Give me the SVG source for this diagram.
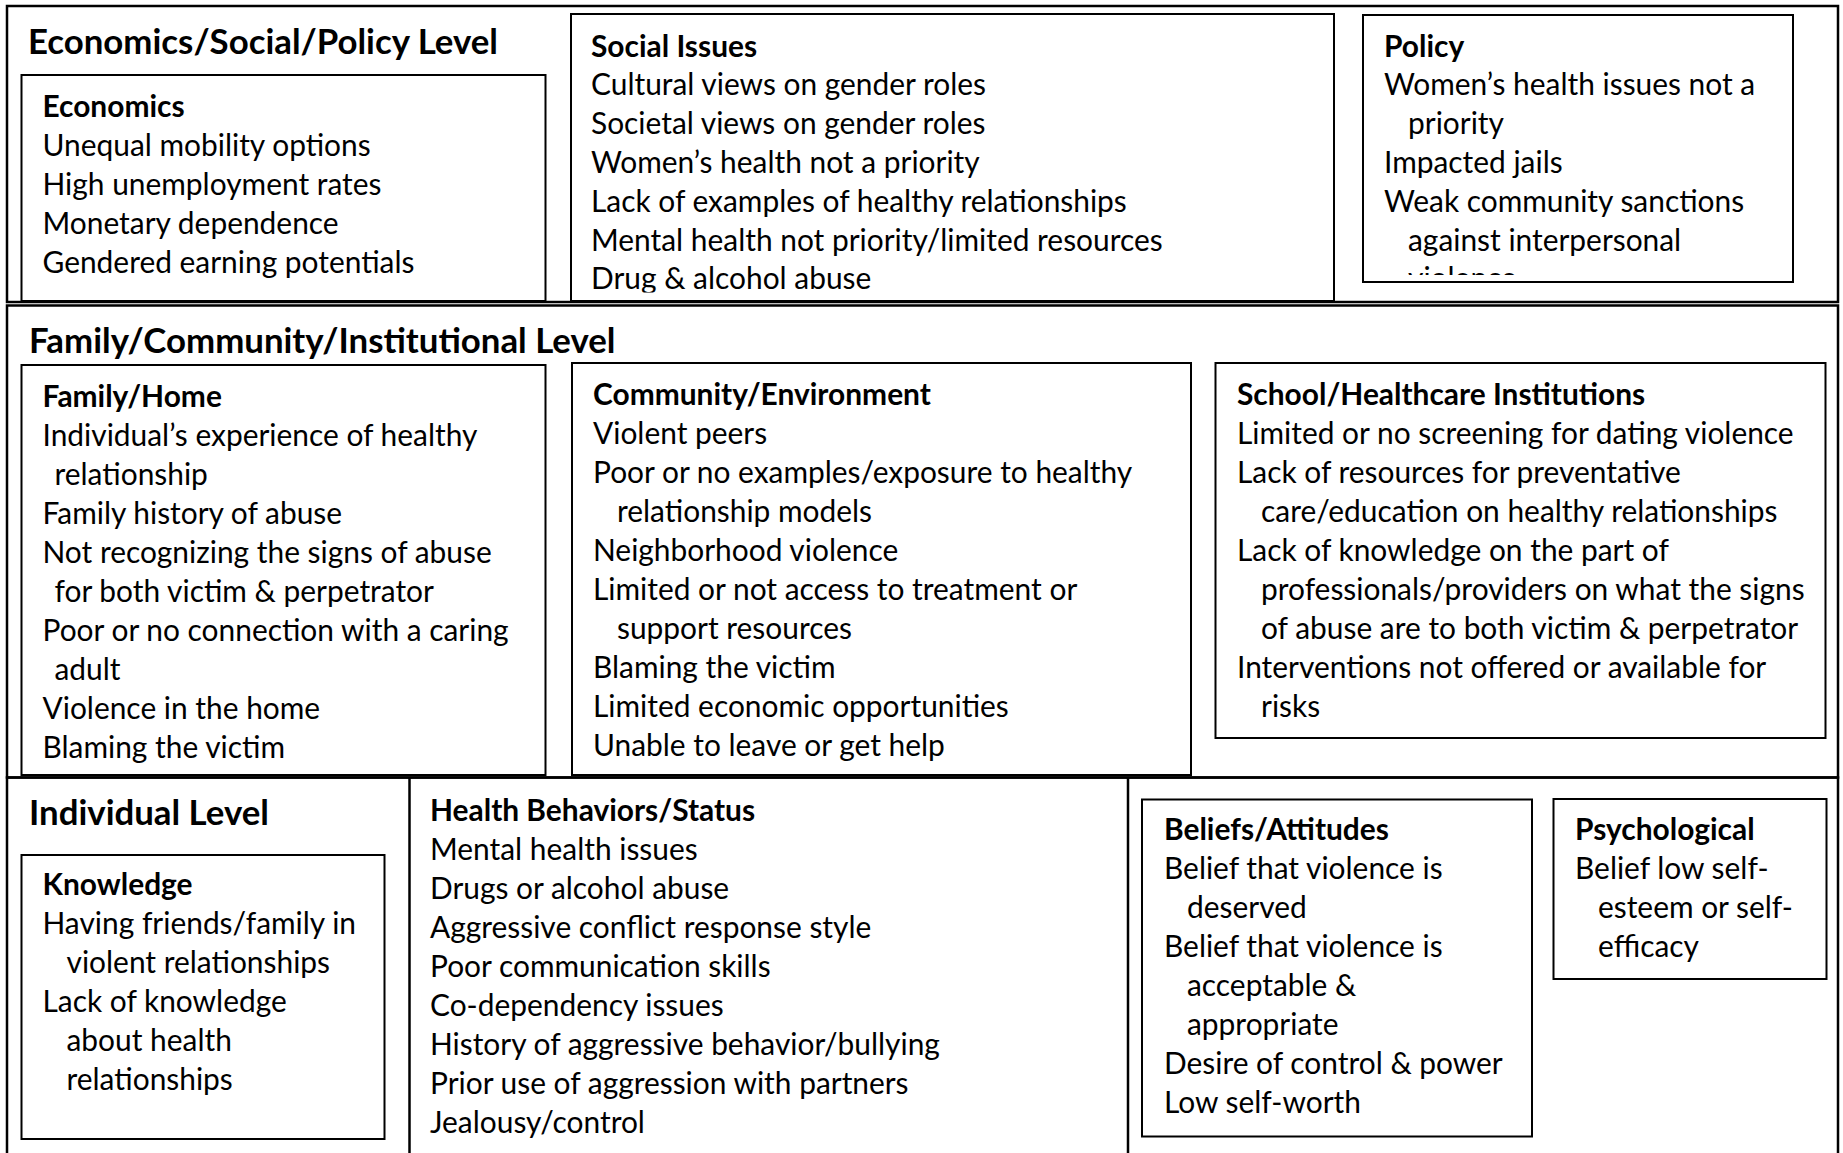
<svg xmlns="http://www.w3.org/2000/svg" width="1843" height="1153" viewBox="0 0 1843 1153">
  <style>
    .frame { fill: none; stroke: #000; stroke-width: 2.5; }
    .box { fill: none; stroke: #000; stroke-width: 2; }
    .rule { stroke: #000; stroke-width: 2.5; }
    .level { font-family: Lato, "Open Sans", "Liberation Sans", sans-serif; font-weight: bold; font-size: 34.8px; fill: #000; }
    .body { font-family: Lato, "Open Sans", "Liberation Sans", sans-serif; font-size: 29.9px; fill: #000; }
    .body .hd { font-weight: bold; }
  </style>
  <defs>
    <clipPath id="clip-social"><rect x="572" y="15" width="760" height="277.5"/></clipPath>
    <clipPath id="clip-policy"><rect x="1364" y="16" width="428" height="259"/></clipPath>
  </defs>
  <rect width="1843" height="1153" fill="#fff"/>

  <!-- Economics / Social / Policy level -->
  <g id="level-economic">
    <rect class="frame" x="7" y="6" width="1831" height="296"/>
    <text class="level" x="28" y="53.5">Economics/Social/Policy Level</text>
  </g>
  <g id="economics">
    <rect class="box" x="21.5" y="75" width="524" height="226"/>
    <text class="body">
      <tspan class="hd" x="42.5" y="116.5">Economics</tspan>
      <tspan x="42.5" y="155.6">Unequal mobility options</tspan>
      <tspan x="42.5" y="194.7">High unemployment rates</tspan>
      <tspan x="42.5" y="233.8">Monetary dependence</tspan>
      <tspan x="42.5" y="272.9">Gendered earning potentials</tspan>
    </text>
  </g>
  <g id="social-issues">
    <rect class="box" x="571" y="14" width="763" height="287"/>
    <text class="body" clip-path="url(#clip-social)">
      <tspan class="hd" x="591" y="56.5">Social Issues</tspan>
      <tspan x="591" y="95.3">Cultural views on gender roles</tspan>
      <tspan x="591" y="134.1">Societal views on gender roles</tspan>
      <tspan x="591" y="172.9">Women’s health not a priority</tspan>
      <tspan x="591" y="211.7">Lack of examples of healthy relationships</tspan>
      <tspan x="591" y="250.5">Mental health not priority/limited resources</tspan>
      <tspan x="591" y="289.3">Drug &amp; alcohol abuse</tspan>
    </text>
  </g>
  <g id="policy">
    <rect class="box" x="1363" y="15" width="430" height="267"/>
    <text class="body" clip-path="url(#clip-policy)">
      <tspan class="hd" x="1384" y="56.5">Policy</tspan>
      <tspan x="1384" y="95.3">Women’s health issues not a</tspan>
      <tspan x="1408" y="134.1">priority</tspan>
      <tspan x="1384" y="172.9">Impacted jails</tspan>
      <tspan x="1384" y="211.7">Weak community sanctions</tspan>
      <tspan x="1408" y="250.5">against interpersonal</tspan>
      <tspan x="1408" y="289.3">violence</tspan>
    </text>
  </g>

  <!-- Family / Community / Institutional level -->
  <g id="level-community">
    <rect class="frame" x="7" y="305.5" width="1831" height="472"/>
    <text class="level" x="29" y="353">Family/Community/Institutional Level</text>
  </g>
  <g id="family-home">
    <rect class="box" x="21.5" y="365" width="524" height="410"/>
    <text class="body">
      <tspan class="hd" x="42.5" y="406.5">Family/Home</tspan>
      <tspan x="42.5" y="445.6">Individual’s experience of healthy</tspan>
      <tspan x="54.5" y="484.7">relationship</tspan>
      <tspan x="42.5" y="523.8">Family history of abuse</tspan>
      <tspan x="42.5" y="562.9">Not recognizing the signs of abuse</tspan>
      <tspan x="54.5" y="602">for both victim &amp; perpetrator</tspan>
      <tspan x="42.5" y="641.1">Poor or no connection with a caring</tspan>
      <tspan x="54.5" y="680.2">adult</tspan>
      <tspan x="42.5" y="719.3">Violence in the home</tspan>
      <tspan x="42.5" y="758.4">Blaming the victim</tspan>
    </text>
  </g>
  <g id="community-environment">
    <rect class="box" x="572" y="363" width="619" height="412"/>
    <text class="body">
      <tspan class="hd" x="593" y="404.5">Community/Environment</tspan>
      <tspan x="593" y="443.6">Violent peers</tspan>
      <tspan x="593" y="482.7">Poor or no examples/exposure to healthy</tspan>
      <tspan x="617" y="521.8">relationship models</tspan>
      <tspan x="593" y="560.9">Neighborhood violence</tspan>
      <tspan x="593" y="600">Limited or not access to treatment or</tspan>
      <tspan x="617" y="639.1">support resources</tspan>
      <tspan x="593" y="678.2">Blaming the victim</tspan>
      <tspan x="593" y="717.3">Limited economic opportunities</tspan>
      <tspan x="593" y="756.4">Unable to leave or get help</tspan>
    </text>
  </g>
  <g id="school-healthcare">
    <rect class="box" x="1215.5" y="363" width="610" height="375"/>
    <text class="body">
      <tspan class="hd" x="1237" y="404.5">School/Healthcare Institutions</tspan>
      <tspan x="1237" y="443.6">Limited or no screening for dating violence</tspan>
      <tspan x="1237" y="482.7">Lack of resources for preventative</tspan>
      <tspan x="1261" y="521.8">care/education on healthy relationships</tspan>
      <tspan x="1237" y="560.9">Lack of knowledge on the part of</tspan>
      <tspan x="1261" y="600">professionals/providers on what the signs</tspan>
      <tspan x="1261" y="639.1">of abuse are to both victim &amp; perpetrator</tspan>
      <tspan x="1237" y="678.2">Interventions not offered or available for</tspan>
      <tspan x="1261" y="717.3">risks</tspan>
    </text>
  </g>

  <!-- Individual level -->
  <g id="level-individual">
    <rect class="frame" x="7" y="777.5" width="1831" height="400"/>
    <line class="rule" x1="409.5" y1="777.5" x2="409.5" y2="1153"/>
    <line class="rule" x1="1128" y1="777.5" x2="1128" y2="1153"/>
    <text class="level" x="29" y="824.5">Individual Level</text>
  </g>
  <g id="knowledge">
    <rect class="box" x="21.5" y="855" width="363" height="284"/>
    <text class="body">
      <tspan class="hd" x="42.5" y="894.5">Knowledge</tspan>
      <tspan x="42.5" y="933.6">Having friends/family in</tspan>
      <tspan x="66.5" y="972.7">violent relationships</tspan>
      <tspan x="42.5" y="1011.8">Lack of knowledge</tspan>
      <tspan x="66.5" y="1050.9">about health</tspan>
      <tspan x="66.5" y="1090">relationships</tspan>
    </text>
  </g>
  <g id="health-behaviors">
    <text class="body">
      <tspan class="hd" x="430" y="820.5">Health Behaviors/Status</tspan>
      <tspan x="430" y="859.6">Mental health issues</tspan>
      <tspan x="430" y="898.7">Drugs or alcohol abuse</tspan>
      <tspan x="430" y="937.8">Aggressive conflict response style</tspan>
      <tspan x="430" y="976.9">Poor communication skills</tspan>
      <tspan x="430" y="1016">Co-dependency issues</tspan>
      <tspan x="430" y="1055.1">History of aggressive behavior/bullying</tspan>
      <tspan x="430" y="1094.2">Prior use of aggression with partners</tspan>
      <tspan x="430" y="1133.3">Jealousy/control</tspan>
    </text>
  </g>
  <g id="beliefs-attitudes">
    <rect class="box" x="1142" y="799.5" width="390" height="337"/>
    <text class="body">
      <tspan class="hd" x="1164" y="839.5">Beliefs/Attitudes</tspan>
      <tspan x="1164" y="878.6">Belief that violence is</tspan>
      <tspan x="1187" y="917.7">deserved</tspan>
      <tspan x="1164" y="956.8">Belief that violence is</tspan>
      <tspan x="1187" y="995.9">acceptable &amp;</tspan>
      <tspan x="1187" y="1035">appropriate</tspan>
      <tspan x="1164" y="1074.1">Desire of control &amp; power</tspan>
      <tspan x="1164" y="1113.2">Low self-worth</tspan>
    </text>
  </g>
  <g id="psychological">
    <rect class="box" x="1553.5" y="799" width="273" height="180"/>
    <text class="body">
      <tspan class="hd" x="1575" y="839.5">Psychological</tspan>
      <tspan x="1575" y="878.6">Belief low self-</tspan>
      <tspan x="1598" y="917.7">esteem or self-</tspan>
      <tspan x="1598" y="956.8">efficacy</tspan>
    </text>
  </g>
</svg>
